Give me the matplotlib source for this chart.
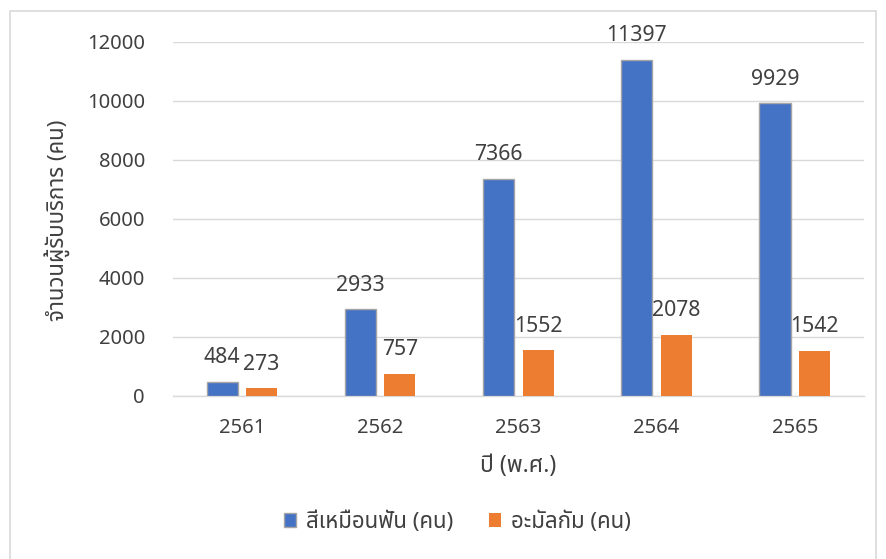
import matplotlib
matplotlib.use('Agg')
import matplotlib.pyplot as plt
import numpy as np
from matplotlib.patches import Rectangle

# ── data ────────────────────────────────────────────────────────────
years = ['2561', '2562', '2563', '2564', '2565']
tooth_colored = [484, 2933, 7366, 11397, 9929]
amalgam = [273, 757, 1552, 2078, 1542]
series_names = ['สีเหมือนฟัน (คน)', 'อะมัลกัม (คน)']

plt.rcParams['font.family'] = ['Noto Sans', 'Noto Sans Thai', 'Sarabun',
                               'Bai Jamjuree', 'DejaVu Sans']

BLUE = '#4472C4'
ORANGE = '#ED7D31'
TXT = '#404040'

fig = plt.figure(figsize=(8.86, 5.59), dpi=100)
fig.patch.set_facecolor('white')
ax = fig.add_axes([0.195, 0.2916, 0.78, 0.6333])

x = np.arange(len(years))
w = 0.225
off = 0.143
b1 = ax.bar(x - off, tooth_colored, w, color=BLUE, edgecolor='#A5A5A5',
            linewidth=1.0, label=series_names[0], zorder=3)
b2 = ax.bar(x + off, amalgam, w, color=ORANGE, linewidth=0,
            label=series_names[1], zorder=3)

# data labels above bars
for bars in (b1, b2):
    for r in bars:
        ax.text(r.get_x() + r.get_width() / 2, r.get_height() + 450,
                f'{int(r.get_height())}', ha='center', va='bottom',
                fontsize=15.3, color=TXT, clip_on=False)

ax.set_xlim(-0.5, len(years) - 0.5)
ax.set_ylim(0, 12000)
ax.set_yticks(range(0, 12001, 2000))
ax.set_xticks(x)
ax.set_xticklabels(years)
ax.tick_params(axis='both', length=0, labelsize=14.5, colors=TXT)
ax.tick_params(axis='y', pad=20)
ax.tick_params(axis='x', pad=16)
ax.yaxis.grid(True, color='#D9D9D9', linewidth=1.0, zorder=0)
ax.set_axisbelow(True)
for s in ('top', 'right', 'left'):
    ax.spines[s].set_visible(False)
ax.spines['bottom'].set_color('#D9D9D9')
ax.spines['bottom'].set_linewidth(1.0)

fig.text(0.065, 0.605, 'จำนวนผู้รับบริการ (คน)', rotation=90,
         ha='center', va='center', fontsize=16, color=TXT)
fig.text(0.585, 0.166, 'ปี (พ.ศ.)', ha='center', va='center',
         fontsize=16.5, color=TXT)

fig.legend(handles=[b1, b2], labels=series_names, loc='center',
           bbox_to_anchor=(0.516, 0.066), ncol=2, frameon=False,
           fontsize=16, labelcolor=TXT, handlelength=0.55,
           handleheight=0.55, columnspacing=1.6, handletextpad=0.45)

# chart-area border
fig.add_artist(Rectangle((0.011, -0.01), 0.978, 0.99,
                         transform=fig.transFigure, fill=False,
                         edgecolor='#D9D9D9', linewidth=1.2))

fig.savefig('out.png', dpi=100, facecolor='white')
